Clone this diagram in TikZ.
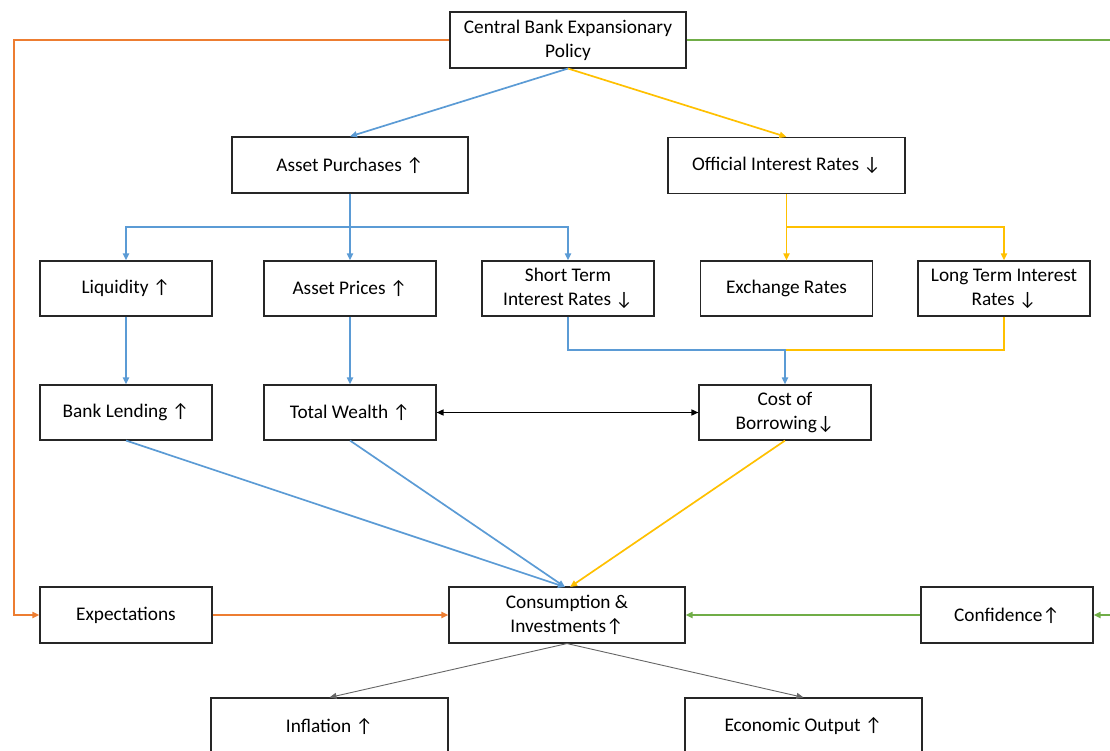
\documentclass[tikz,border=0pt]{standalone}
\usepackage{fontspec}
\setmainfont{Carlito}
\usetikzlibrary{arrows.meta}
\definecolor{corange}{RGB}{237,125,49}
\definecolor{cgreen}{RGB}{112,173,71}
\definecolor{cblue}{RGB}{91,155,213}
\definecolor{cyellow}{RGB}{255,192,0}
\newcommand\upa{↑}
\newcommand\dna{↓}
\tikzset{
  box/.style={draw=black!85, line width=1.1pt, fill=white, align=center, inner sep=2pt,
    font=\fontsize{19.3}{24}\selectfont},
  wide/.style={box, minimum width=236pt, minimum height=56pt},
  narrow/.style={box, minimum width=172pt, minimum height=55pt},
  tip/.style={-{Triangle[length=7pt,width=6pt]}},
  con/.style={line width=1.7pt, tip},
}
\begin{document}
\begin{tikzpicture}[x=1pt,y=-1pt]
\useasboundingbox (0,0) rectangle (1110,751);
\node[wide] (cb) at (568,40) {Central Bank Expansionary\\Policy};
\node[wide] (ap) at (350,165) {Asset Purchases \upa};
\node[wide, minimum width=237pt] (oir) at (786.5,165.5) {Official Interest Rates \dna};
\node[narrow] (liq) at (126,288.5) {Liquidity \upa};
\node[narrow] (apr) at (350,288.5) {Asset Prices \upa};
\node[narrow] (st) at (568,288.5) {Short Term\\Interest Rates \dna};
\node[narrow] (ex) at (786.5,288.5) {Exchange Rates};
\node[narrow] (lt) at (1004,288.5) {Long Term Interest\\Rates \dna};
\node[narrow] (bl) at (126,412.5) {Bank Lending \upa};
\node[narrow] (tw) at (350,412.5) {Total Wealth \upa};
\node[narrow] (cost) at (785,412.5) {Cost of\\Borrowing\dna};
\node[narrow, minimum height=56pt] (exp) at (126,615) {Expectations};
\node[wide, minimum height=56pt] (ci) at (567,615) {Consumption \&\\Investments\upa};
\node[narrow, minimum height=56pt] (conf) at (1007,615) {Confidence\upa};
\node[wide, minimum width=237pt, minimum height=56pt] (inf) at (329.5,726) {Inflation \upa};
\node[wide, minimum width=237pt, minimum height=56pt] (eo) at (803.5,726) {Economic Output \upa};
\coordinate (gr1) at (1125,40);
\coordinate (gr2) at (1125,615);
% orange
\draw[con, corange] (cb.west) -- (14,40) |- (exp.west);
\draw[con, corange] (exp.east) -- (ci.west);
% green
\draw[line width=1.7pt, cgreen] (cb.east) -- (gr1);
\draw[con, cgreen] (gr2) -- (conf.east);
\draw[con, cgreen] (conf.west) -- (ci.east);
% top split
\draw[con, cblue] (cb.south) -- (ap.north);
\draw[con, cyellow] (cb.south) -- (oir.north);
% asset purchases branches
\draw[con, cblue] (ap.south) -- (350,227) -| (liq.north);
\draw[con, cblue] (ap.south) -- (apr.north);
\draw[con, cblue] (350,227) -| (st.north);
% official branches
\draw[con, cyellow] (oir.south) -- (786.5,227) -- (ex.north);
\draw[con, cyellow] (786.5,227) -| (lt.north);
% to bank lending, total wealth
\draw[con, cblue] (liq.south) -- (bl.north);
\draw[con, cblue] (apr.south) -- (tw.north);
% to cost of borrowing
\draw[line width=1.7pt, cyellow] (lt.south) |- (785,350);
\draw[con, cblue] (st.south) |- (785,350) -- (cost.north);
% double arrow
\draw[line width=1.5pt, {Triangle[length=7pt,width=6pt]}-{Triangle[length=7pt,width=6pt]}] (tw.east) -- (cost.west);
% to consumption
\coordinate (cit) at (565,587);
\draw[con, cblue] (bl.south) -- (cit);
\draw[con, cblue] (tw.south) -- (cit);
\draw[con, cyellow] (cost.south) -- (570,587);
% to outputs
\draw[line width=0.9pt, black!60, tip] (ci.south) -- (inf.north);
\draw[line width=0.9pt, black!60, tip] (ci.south) -- (eo.north);
\end{tikzpicture}
\end{document}
